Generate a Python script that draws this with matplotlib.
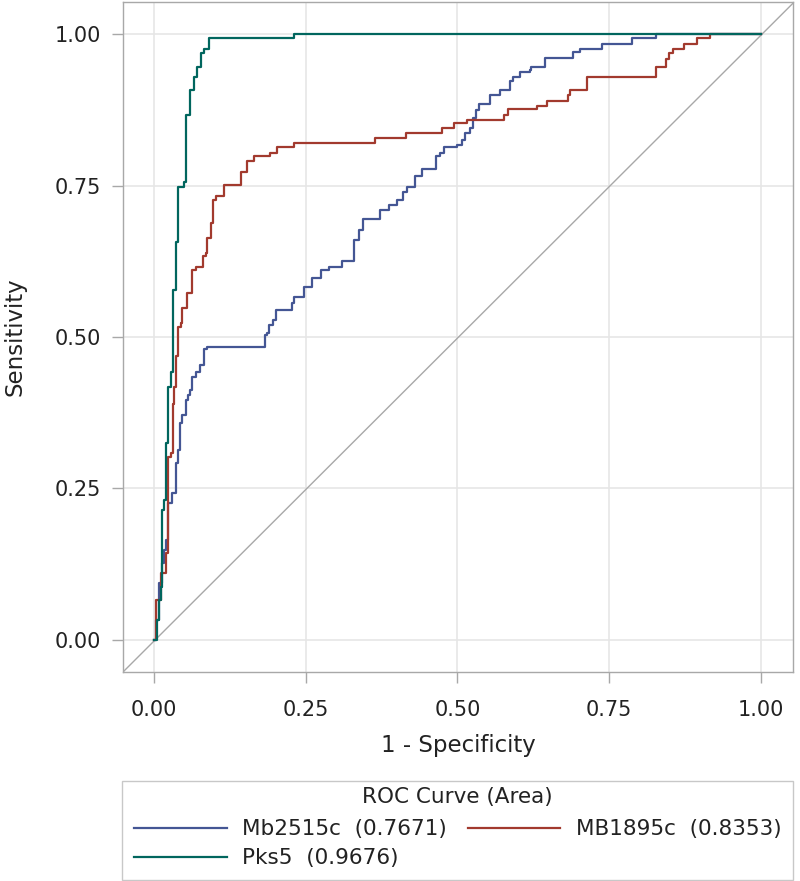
import matplotlib
matplotlib.use("Agg")
import matplotlib.pyplot as plt
from matplotlib.lines import Line2D
from matplotlib.patches import Rectangle

# ROC points (1 - specificity, sensitivity), drawn as steps
mb2515c_fpr = [0.000, 0.003, 0.008, 0.014, 0.017, 0.020, 0.023, 0.030, 0.036, 0.039, 0.043, 0.047,
               0.053, 0.056, 0.060, 0.063, 0.069, 0.076, 0.082, 0.088, 0.183, 0.187, 0.190, 0.196,
               0.201, 0.227, 0.230, 0.247, 0.261, 0.275, 0.288, 0.310, 0.330, 0.338, 0.345, 0.373,
               0.387, 0.401, 0.410, 0.417, 0.430, 0.441, 0.465, 0.472, 0.478, 0.500, 0.507, 0.513,
               0.520, 0.525, 0.531, 0.536, 0.554, 0.570, 0.586, 0.592, 0.603, 0.620, 0.622, 0.645,
               0.691, 0.702, 0.738, 0.787, 0.827, 1.000]
mb2515c_tpr = [0.000, 0.033, 0.094, 0.127, 0.149, 0.165, 0.226, 0.242, 0.292, 0.314, 0.358, 0.371,
               0.396, 0.404, 0.413, 0.434, 0.443, 0.454, 0.481, 0.484, 0.503, 0.506, 0.520, 0.528,
               0.545, 0.556, 0.566, 0.583, 0.597, 0.611, 0.616, 0.625, 0.660, 0.677, 0.694, 0.710,
               0.718, 0.726, 0.740, 0.748, 0.765, 0.778, 0.798, 0.803, 0.814, 0.817, 0.825, 0.836,
               0.845, 0.861, 0.875, 0.884, 0.899, 0.908, 0.922, 0.930, 0.938, 0.941, 0.946, 0.960,
               0.970, 0.976, 0.983, 0.993, 1.000, 1.000]

mb1895c_fpr = [0.000, 0.003, 0.012, 0.020, 0.023, 0.028, 0.031, 0.033, 0.036, 0.039, 0.044, 0.047,
               0.055, 0.062, 0.069, 0.080, 0.086, 0.088, 0.094, 0.097, 0.102, 0.115, 0.143, 0.153,
               0.165, 0.192, 0.202, 0.230, 0.365, 0.416, 0.475, 0.495, 0.516, 0.576, 0.584, 0.631,
               0.647, 0.682, 0.685, 0.714, 0.827, 0.843, 0.848, 0.855, 0.873, 0.894, 0.916, 1.000]
mb1895c_tpr = [0.000, 0.066, 0.110, 0.143, 0.302, 0.308, 0.390, 0.418, 0.468, 0.517, 0.523, 0.548,
               0.572, 0.611, 0.616, 0.633, 0.638, 0.663, 0.688, 0.726, 0.732, 0.751, 0.773, 0.790,
               0.798, 0.803, 0.814, 0.820, 0.828, 0.836, 0.845, 0.853, 0.859, 0.866, 0.876, 0.881,
               0.890, 0.899, 0.908, 0.930, 0.946, 0.959, 0.968, 0.976, 0.983, 0.993, 1.000, 1.000]

pks5_fpr = [0.000, 0.005, 0.008, 0.011, 0.014, 0.017, 0.020, 0.023, 0.028, 0.031, 0.036, 0.039,
            0.050, 0.053, 0.060, 0.066, 0.071, 0.077, 0.082, 0.091, 0.230, 1.000]
pks5_tpr = [0.000, 0.033, 0.066, 0.088, 0.215, 0.231, 0.325, 0.418, 0.443, 0.578, 0.657, 0.748,
            0.756, 0.866, 0.908, 0.930, 0.946, 0.969, 0.976, 0.993, 1.000, 1.000]

series_names = ["Mb2515c", "MB1895c", "Pks5"]
series_auc = ["0.7671", "0.8353", "0.9676"]
series_colors = ["#445694", "#A23A2E", "#01665E"]
ticks = [0.0, 0.25, 0.5, 0.75, 1.0]
tick_labels = ["0.00", "0.25", "0.50", "0.75", "1.00"]

plt.rcParams['font.family'] = ['DejaVu Sans']
W, H = 800, 881
fig = plt.figure(figsize=(W / 100, H / 100), dpi=100)
ax = fig.add_axes([123 / W, 1 - 672 / H, 670 / W, 670 / H])

ax.set_xlim(-0.051, 1.053)
ax.set_ylim(-0.053, 1.053)
ax.set_xticks(ticks)
ax.set_yticks(ticks)
ax.set_xticklabels(tick_labels)
ax.set_yticklabels(tick_labels)
ax.grid(True, color="#e6e6e6", linewidth=1.2)
ax.set_axisbelow(True)
for s in ax.spines.values():
    s.set_color("#a8a8a8")
    s.set_linewidth(1.0)
ax.tick_params(axis="both", direction="out", length=8, width=1, color="#a8a8a8",
               labelsize=15, labelcolor="#222222")
ax.tick_params(axis="x", pad=12)
ax.tick_params(axis="y", pad=8)

ax.plot([-0.051, 1.053], [-0.053, 1.051], color="#a8a8a8", linewidth=1.0, zorder=2)

data = [(mb2515c_fpr, mb2515c_tpr), (mb1895c_fpr, mb1895c_tpr), (pks5_fpr, pks5_tpr)]
handles = []
for (fx, ty), name, auc, col in zip(data, series_names, series_auc, series_colors):
    ax.plot(fx, ty, drawstyle="steps-post", color=col, linewidth=1.6, zorder=3)
    handles.append(Line2D([0], [0], color=col, linewidth=1.6, label=f"{name}  ({auc})"))

ax.set_xlabel("1 - Specificity", fontsize=16.5, color="#222222", labelpad=10)
ax.set_ylabel("Sensitivity", fontsize=16.5, color="#222222", labelpad=20)

# legend frame
fig.patches.append(Rectangle((122 / W, 1 - 880 / H), 671 / W, 99 / H, transform=fig.transFigure,
                             facecolor="none", edgecolor="#c8c8c8", linewidth=1.0))

order = [handles[0], handles[2], handles[1]]
leg = fig.legend(handles=order, labels=[h.get_label() for h in order],
                 loc="upper left", bbox_to_anchor=(134 / W, 1 - 787 / H),
                 ncol=2, title="ROC Curve (Area)", fontsize=15.5,
                 title_fontsize=15.5, handlelength=4.3, handletextpad=0.7,
                 columnspacing=1.0, borderaxespad=0, borderpad=0, labelspacing=0.4,
                 frameon=False)
leg._legend_box.sep = 9
for t in leg.get_texts():
    t.set_color("#222222")
leg.get_title().set_color("#222222")

fig.savefig("out.png", dpi=100, facecolor="white")
